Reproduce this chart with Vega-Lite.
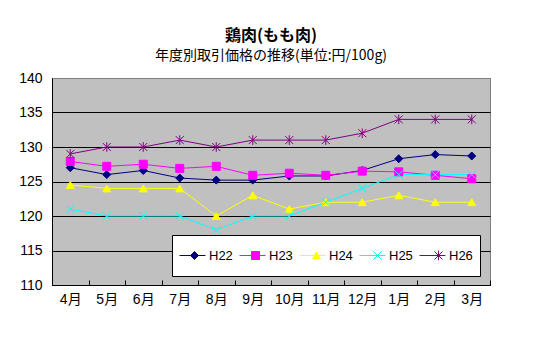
{
  "$schema": "https://vega.github.io/schema/vega-lite/v6.json",
  "width": 438,
  "height": 207,
  "autosize": {"type": "none"},
  "padding": {"left": 52, "top": 78, "right": 60, "bottom": 65},
  "background": "white",
  "title": {
    "text": "　鶏肉(もも肉)",
    "subtitle": "年度別取引価格の推移(単位:円/100g)",
    "font": "Noto Sans CJK JP",
    "fontSize": 16,
    "fontWeight": "bold",
    "subtitleFont": "Noto Sans CJK JP",
    "subtitleFontSize": 14,
    "color": "black",
    "subtitleColor": "black",
    "anchor": "middle",
    "offset": 8,
    "subtitlePadding": 5
  },
  "config": {"view": {"fill": "#C0C0C0", "stroke": "#808080", "strokeWidth": 1}},
  "data": {
    "values": [
      {"month": "4月", "series": "H22", "value": 127},
      {"month": "5月", "series": "H22", "value": 126},
      {"month": "6月", "series": "H22", "value": 126.6},
      {"month": "7月", "series": "H22", "value": 125.5},
      {"month": "8月", "series": "H22", "value": 125.2},
      {"month": "9月", "series": "H22", "value": 125.2},
      {"month": "10月", "series": "H22", "value": 125.8},
      {"month": "11月", "series": "H22", "value": 125.8},
      {"month": "12月", "series": "H22", "value": 126.6},
      {"month": "1月", "series": "H22", "value": 128.3},
      {"month": "2月", "series": "H22", "value": 128.9},
      {"month": "3月", "series": "H22", "value": 128.7},
      {"month": "4月", "series": "H23", "value": 127.9},
      {"month": "5月", "series": "H23", "value": 127.2},
      {"month": "6月", "series": "H23", "value": 127.5},
      {"month": "7月", "series": "H23", "value": 126.9},
      {"month": "8月", "series": "H23", "value": 127.2},
      {"month": "9月", "series": "H23", "value": 125.9},
      {"month": "10月", "series": "H23", "value": 126.2},
      {"month": "11月", "series": "H23", "value": 125.9},
      {"month": "12月", "series": "H23", "value": 126.5},
      {"month": "1月", "series": "H23", "value": 126.4},
      {"month": "2月", "series": "H23", "value": 125.9},
      {"month": "3月", "series": "H23", "value": 125.4},
      {"month": "4月", "series": "H24", "value": 124.5},
      {"month": "5月", "series": "H24", "value": 124},
      {"month": "6月", "series": "H24", "value": 124},
      {"month": "7月", "series": "H24", "value": 124},
      {"month": "8月", "series": "H24", "value": 120},
      {"month": "9月", "series": "H24", "value": 123},
      {"month": "10月", "series": "H24", "value": 121},
      {"month": "11月", "series": "H24", "value": 122},
      {"month": "12月", "series": "H24", "value": 122},
      {"month": "1月", "series": "H24", "value": 123},
      {"month": "2月", "series": "H24", "value": 122},
      {"month": "3月", "series": "H24", "value": 122},
      {"month": "4月", "series": "H25", "value": 121},
      {"month": "5月", "series": "H25", "value": 120},
      {"month": "6月", "series": "H25", "value": 120},
      {"month": "7月", "series": "H25", "value": 120},
      {"month": "8月", "series": "H25", "value": 118},
      {"month": "9月", "series": "H25", "value": 120},
      {"month": "10月", "series": "H25", "value": 120},
      {"month": "11月", "series": "H25", "value": 122},
      {"month": "12月", "series": "H25", "value": 124},
      {"month": "1月", "series": "H25", "value": 126},
      {"month": "2月", "series": "H25", "value": 126},
      {"month": "3月", "series": "H25", "value": 126},
      {"month": "4月", "series": "H26", "value": 129},
      {"month": "5月", "series": "H26", "value": 130},
      {"month": "6月", "series": "H26", "value": 130},
      {"month": "7月", "series": "H26", "value": 131},
      {"month": "8月", "series": "H26", "value": 130},
      {"month": "9月", "series": "H26", "value": 131},
      {"month": "10月", "series": "H26", "value": 131},
      {"month": "11月", "series": "H26", "value": 131},
      {"month": "12月", "series": "H26", "value": 132},
      {"month": "1月", "series": "H26", "value": 134},
      {"month": "2月", "series": "H26", "value": 134},
      {"month": "3月", "series": "H26", "value": 134}
    ]
  },
  "encoding": {
    "x": {
      "field": "month",
      "type": "ordinal",
      "sort": ["4月", "5月", "6月", "7月", "8月", "9月", "10月", "11月", "12月", "1月", "2月", "3月"],
      "scale": {"type": "band", "paddingInner": 0, "paddingOuter": 0},
      "axis": {
        "title": null,
        "labelAngle": 0,
        "tickBand": "extent",
        "tickSize": -5,
        "tickColor": "black",
        "domainColor": "black",
        "labelFontSize": 14,
        "labelFont": "Liberation Sans, Noto Sans CJK JP",
        "labelColor": "black",
        "labelPadding": 12,
        "grid": false
      }
    },
    "y": {
      "field": "value",
      "type": "quantitative",
      "scale": {"domain": [110, 140], "nice": false, "zero": false},
      "axis": {
        "title": null,
        "values": [110, 115, 120, 125, 130, 135, 140],
        "ticks": false,
        "domainColor": "black",
        "labelFontSize": 14,
        "labelFont": "Liberation Sans",
        "labelColor": "black",
        "labelPadding": 10,
        "grid": true,
        "gridColor": {"condition": {"test": "datum.value == 140", "value": "#808080"}, "value": "black"},
        "gridOpacity": 1,
        "gridWidth": 1
      }
    }
  },
  "layer": [
    {
      "mark": {"type": "line", "strokeWidth": 1},
      "encoding": {
        "color": {
          "field": "series",
          "type": "nominal",
          "scale": {"domain": ["H22", "H23", "H24", "H25", "H26"], "range": ["#000080", "#FF00FF", "#FFFF00", "#00FFFF", "#800080"]},
          "legend": {
            "orient": "none", "legendX": 120, "legendY": 157, "direction": "horizontal", "columns": 5,
            "title": null, "symbolType": "stroke", "symbolSize": 676, "symbolStrokeWidth": 1,
            "labelFont": "Liberation Sans", "labelFontSize": 13, "labelColor": "black", "labelOffset": 3,
            "columnPadding": 6, "padding": 7, "fillColor": "white", "strokeColor": "black", "clipHeight": 27, "zindex": 1
          }
        }
      }
    },
    {
      "mark": {"type": "point", "filled": true, "size": 64, "opacity": 1, "strokeWidth": 1},
      "encoding": {
        "shape": {
          "field": "series", "type": "nominal",
          "scale": {"range": ["diamond", "square", "triangle-up", "M-1,-1L1,1M-1,1L1,-1", "M-1,-1L1,1M-1,1L1,-1M0,-1.2L0,1.2"]},
          "legend": {
            "orient": "none", "legendX": 120, "legendY": 157, "direction": "horizontal", "columns": 5,
            "title": null, "symbolSize": 64, "symbolStrokeWidth": 1, "symbolOffset": 9,
            "labelFont": "Liberation Sans", "labelFontSize": 13, "labelExpr": "''", "labelOffset": 33,
            "columnPadding": 6, "padding": 7, "clipHeight": 27, "zindex": 2
          }
        },
        "fill": {
          "field": "series", "type": "nominal",
          "scale": {"range": ["#000080", "#FF00FF", "#FFFF00", "#00FFFF", "#800080"]},
          "legend": {
            "orient": "none", "legendX": 120, "legendY": 157, "direction": "horizontal", "columns": 5,
            "title": null, "symbolSize": 64, "symbolStrokeWidth": 1, "symbolOffset": 9,
            "labelFont": "Liberation Sans", "labelFontSize": 13, "labelExpr": "''", "labelOffset": 33,
            "columnPadding": 6, "padding": 7, "clipHeight": 27, "zindex": 2
          }
        },
        "stroke": {
          "field": "series", "type": "nominal",
          "scale": {"range": ["#000080", "#FF00FF", "#FFFF00", "#00FFFF", "#800080"]},
          "legend": {
            "orient": "none", "legendX": 120, "legendY": 157, "direction": "horizontal", "columns": 5,
            "title": null, "symbolSize": 64, "symbolStrokeWidth": 1, "symbolOffset": 9,
            "labelFont": "Liberation Sans", "labelFontSize": 13, "labelExpr": "''", "labelOffset": 33,
            "columnPadding": 6, "padding": 7, "clipHeight": 27, "zindex": 2
          }
        }
      }
    }
  ]
}
